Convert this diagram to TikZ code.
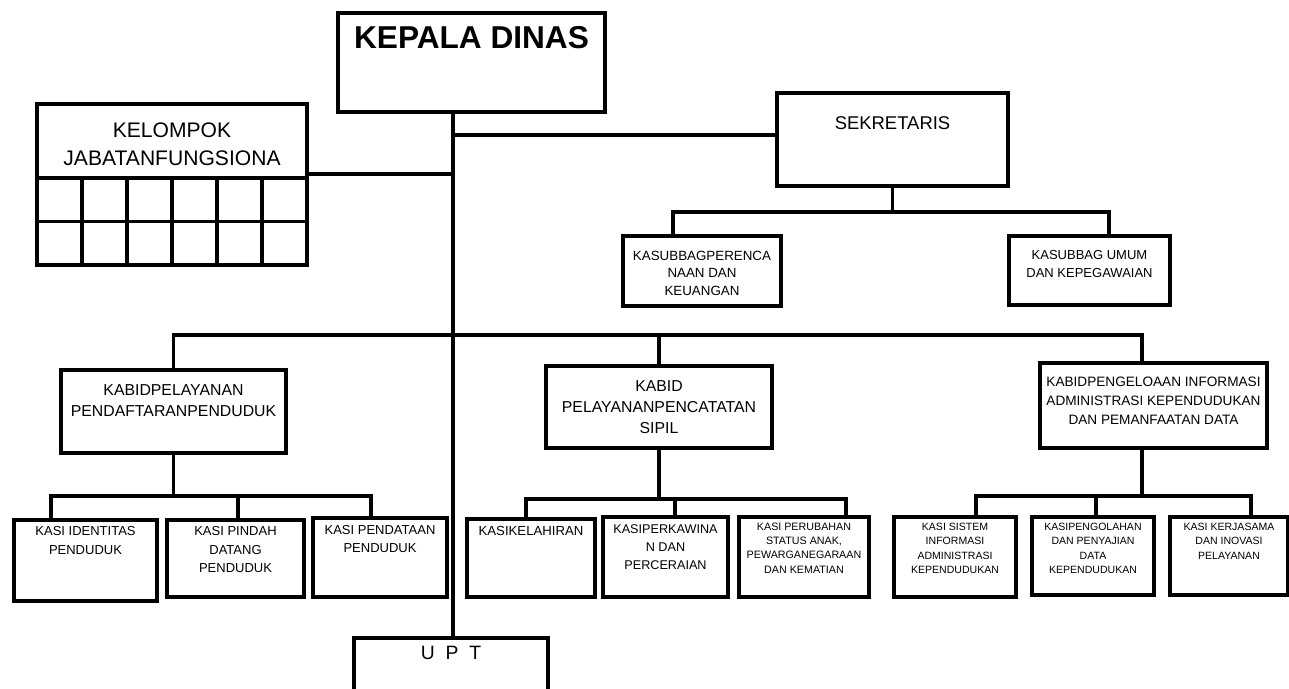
\documentclass[tikz,border=0pt]{standalone}
\usepackage{fontspec}
\setmainfont{Liberation Sans}
\usetikzlibrary{fit}

\tikzset{
  box/.style={draw, line width=1.9pt, inner sep=0pt},
  txt/.style={anchor=north, inner sep=0pt, align=center},
  wire/.style={line width=1.9pt},
}
\newcommand{\fs}[2]{\fontsize{#1}{#2}\selectfont}

\begin{document}
\begin{tikzpicture}[x=0.02cm, y=-0.02cm]
\fill[white] (0,0) rectangle (1289,689);
\useasboundingbox (0,0) rectangle (1289,689);

\node[box, fit={(338,13) (605,112)}, label={[txt, font=\bfseries\fs{18}{20}, yshift=-0.3cm]north:KEPALA DINAS}] (kepala) {};
\node[box, fit={(37,104) (307,178)}, label={[txt, font=\fs{12}{16}, yshift=-0.4cm]north:{KELOMPOK\\JABATANFUNGSIONA}}] (kelompok) {};
\foreach \i in {0,...,5}
  \foreach \j in {0,1}
    \draw[line width=1.9pt] (37+45*\i,178+43.5*\j) rectangle ++(45,43.5);
\node[box, fit={(777,93) (1008,186)}, label={[txt, font=\fs{10.5}{12}, yshift=-0.5cm]north:SEKRETARIS}] (sekr) {};

\node[box, fit={(623,236) (781,306)}, label={[txt, font=\fs{7.6}{10.2}, yshift=-0.32cm]north:{KASUBBAGPERENCA\\NAAN DAN\\KEUANGAN}}] (kasub1) {};
\node[box, fit={(1009,236) (1170,305)}, label={[txt, font=\fs{7.4}{10.2}, yshift=-0.32cm]north:{KASUBBAG UMUM\\DAN KEPEGAWAIAN}}] (kasub2) {};

\node[box, fit={(61,370) (286,453)}, label={[txt, font=\fs{9}{12}, yshift=-0.32cm]north:{KABIDPELAYANAN\\PENDAFTARANPENDUDUK}}] (kabid1) {};
\node[box, fit={(546,366) (772,448)}, label={[txt, font=\fs{9}{12}, yshift=-0.32cm]north:{KABID\\PELAYANANPENCATATAN\\SIPIL}}] (kabid2) {};
\node[box, fit={(1040,363) (1267,448)}, label={[txt, font=\fs{7.75}{10.8}, yshift=-0.3cm]north:{KABIDPENGELOAAN INFORMASI\\ADMINISTRASI KEPENDUDUKAN\\DAN PEMANFAATAN DATA}}] (kabid3) {};

\node[box, fit={(14,520) (157,601)}, label={[txt, font=\fs{7.4}{10.8}, yshift=-0.16cm]north:{KASI IDENTITAS\\PENDUDUK}}] (kasi11) {};
\node[box, fit={(167,520) (304,597)}, label={[txt, font=\fs{7.4}{10.5}, yshift=-0.16cm]north:{KASI PINDAH\\DATANG\\PENDUDUK}}] (kasi12) {};
\node[box, fit={(313,518) (447,597)}, label={[txt, font=\fs{7.4}{10.5}, yshift=-0.17cm]north:{KASI PENDATAAN\\PENDUDUK}}] (kasi13) {};

\node[box, fit={(467,519) (595,597)}, label={[txt, font=\fs{7.5}{10.5}, yshift=-0.18cm]north:KASIKELAHIRAN}] (kasi21) {};
\node[box, fit={(603,517) (728,597)}, label={[txt, font=\fs{7.2}{10.2}, yshift=-0.18cm]north:{KASIPERKAWINA\\N DAN\\PERCERAIAN}}] (kasi22) {};
\node[box, fit={(739,517) (869,597)}, label={[txt, font=\fs{6.1}{8.2}, yshift=-0.14cm]north:{KASI PERUBAHAN\\STATUS ANAK,\\PEWARGANEGARAAN\\DAN KEMATIAN}}] (kasi23) {};

\node[box, fit={(894,517) (1016,597)}, label={[txt, font=\fs{6}{8.3}, yshift=-0.14cm]north:{KASI SISTEM\\INFORMASI\\ADMINISTRASI\\KEPENDUDUKAN}}] (kasi31) {};
\node[box, fit={(1032,517) (1154,595)}, label={[txt, font=\fs{6}{8.3}, yshift=-0.14cm]north:{KASIPENGOLAHAN\\DAN PENYAJIAN\\DATA\\KEPENDUDUKAN}}] (kasi32) {};
\node[box, fit={(1170,517) (1288,595)}, label={[txt, font=\fs{6}{8.3}, yshift=-0.14cm]north:{KASI KERJASAMA\\DAN INOVASI\\PELAYANAN}}] (kasi33) {};

\node[box, fit={(354,638) (548,700)}, label={[txt, font=\fs{11}{13}, yshift=-0.2cm]north:{U~~P~~T}}] (upt) {};

\coordinate (trunk) at (453,112);
\coordinate (bus) at (453,335);
\draw[wire] (trunk) -- (trunk |- upt.north);
\draw[wire] (trunk |- 0,135) -- (sekr.west |- 0,135);
\draw[wire] (kelompok.east |- 0,174) -- (trunk |- 0,174);

\draw[wire] (sekr.south) -- (sekr.south |- 0,212);
\draw[wire] (kasub1.north -| 673,0) |- (1109,212) -- (kasub2.north -| 1109,0);

\draw[wire] (kabid1.north) |- (bus) -| (kabid3.north -| 1142,0);
\draw[wire] (kabid2.north) -- (kabid2.north |- bus);

\draw[wire] (kabid1.south) -- (kabid1.south |- 0,496);
\draw[wire] (kasi11.north -| 51,0) |- (371,496) -- (kasi13.north -| 371,0);
\draw[wire] (kasi12.north -| 238,0) -- (238,496);

\draw[wire] (kabid2.south) -- (kabid2.south |- 0,499);
\draw[wire] (kasi21.north -| 526,0) |- (846,499) -- (kasi23.north -| 846,0);
\draw[wire] (kasi22.north -| 675,0) -- (675,499);

\draw[wire] (kabid3.south -| 1142,0) -- (1142,496);
\draw[wire] (kasi31.north -| 976,0) |- (1251,496) -- (kasi33.north -| 1251,0);
\draw[wire] (kasi32.north -| 1096,0) -- (1096,496);
\end{tikzpicture}
\end{document}
